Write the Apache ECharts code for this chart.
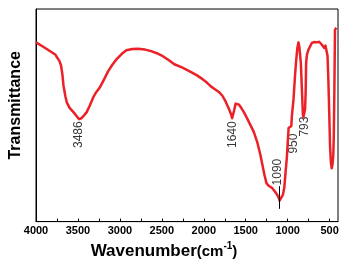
<!DOCTYPE html>
<html>
<head>
<meta charset="utf-8">
<script src="https://cdn.jsdelivr.net/npm/echarts@6/dist/echarts.min.js"></script>
<style>
  html, body { margin: 0; padding: 0; background: #fff; }
  #chart { width: 346px; height: 265px; }
</style>
</head>
<body>
<div id="chart"></div>
<script>
// FTIR spectrum (transmittance in arbitrary 0-100 units)
const wavenumbers = [4000, 3900, 3771, 3720, 3700, 3685, 3672, 3650, 3633, 3600, 3554, 3510, 3486, 3460, 3430, 3396, 3360, 3317, 3280, 3239, 3190, 3139, 3090, 3041, 2980, 2923, 2850, 2784, 2700, 2627, 2560, 2488, 2420, 2351, 2260, 2173, 2090, 2014, 1960, 1916, 1880, 1857, 1820, 1778, 1740, 1700, 1675, 1662, 1652, 1640, 1620, 1600, 1580, 1550, 1522, 1470, 1404, 1360, 1325, 1290, 1277, 1253, 1230, 1186, 1150, 1127, 1110, 1096, 1080, 1056, 1040, 1028, 1010, 1001, 989, 975, 957, 949, 930, 910, 898, 885, 871, 860, 843, 830, 819, 812, 805, 792, 785, 780, 770, 752, 712, 680, 653, 625, 594, 580, 566, 550, 535, 525, 515, 505, 495, 485, 475, 465, 456, 450, 444, 436, 428, 420];
const transmittance = [84.3, 81.9, 78.6, 75.5, 73.2, 69.0, 63.9, 59.0, 56.1, 53.5, 51.5, 49.3, 48.2, 48.6, 49.8, 51.5, 54.5, 58.5, 61.0, 63.1, 66.8, 70.8, 73.8, 76.3, 78.8, 80.6, 81.2, 81.3, 80.9, 80.2, 79.2, 77.8, 76.0, 74.0, 72.5, 70.8, 69.0, 67.0, 65.3, 63.6, 62.6, 62.3, 61.0, 59.2, 56.5, 53.0, 50.5, 48.6, 48.0, 52.0, 55.5, 56.1, 55.0, 53.3, 51.5, 47.5, 42.2, 37.0, 31.3, 24.5, 22.0, 18.1, 17.0, 15.8, 14.0, 12.7, 11.5, 9.9, 10.8, 12.7, 16.0, 22.0, 30.0, 36.0, 44.0, 44.6, 45.0, 50.0, 57.7, 70.0, 76.0, 81.5, 84.3, 82.0, 74.7, 62.0, 50.5, 49.2, 50.5, 53.0, 62.0, 74.7, 78.5, 80.9, 84.0, 84.5, 84.3, 84.6, 83.3, 83.8, 81.7, 82.8, 82.5, 78.0, 67.0, 52.0, 36.0, 28.0, 25.1, 27.0, 31.3, 40.0, 59.2, 90.2, 91.0, 91.2];

const xLabelValues = [4000, 3500, 3000, 2500, 2000, 1500, 1000, 500];
const xTickValues = [4000, 3750, 3500, 3250, 3000, 2750, 2500, 2250, 2000, 1750, 1500, 1250, 1000, 750, 500];

// peak annotations: text, label centre (wavenumber, transmittance)
const peakNames = ['3486', '1640', '1090', '950', '793'];
const peakLabelX = [3486, 1652, 1115, 930, 800];
const peakLabelY = [40.9, 40.9, 23.3, 36.7, 44.7];
const marker1090 = [[1096, 16.7], [1096, 6.0]];

const chart = echarts.init(document.getElementById('chart'));

const fontFamily = '"Liberation Sans", Arial, sans-serif';

const option = {
  animation: false,
  grid: {
    left: 34, right: 8, top: 9, bottom: 41,
    show: true, borderColor: '#000', borderWidth: 1
  },
  xAxis: {
    type: 'value',
    inverse: true,
    min: 400,
    max: 4000,
    name: '{a|Wavenumber}{b|(cm}{c|-1}{b|)}',
    nameLocation: 'middle',
    nameGap: 7,
    nameTextStyle: {
      padding: [0, 46, 0, 0],
      rich: {
        a: { fontSize: 17, fontWeight: 'bold', fontFamily, color: '#000', lineHeight: 20 },
        b: { fontSize: 15, fontWeight: 'bold', fontFamily, color: '#000', lineHeight: 20 },
        c: { fontSize: 10, fontWeight: 'bold', fontFamily, color: '#000', verticalAlign: 'top', lineHeight: 20, padding: [0, 0, 8, 0] }
      }
    },
    axisLine: { show: true, lineStyle: { color: '#000', width: 1 } },
    axisTick: { show: true, inside: true, length: 3, customValues: xTickValues, lineStyle: { color: '#000' } },
    axisLabel: {
      customValues: xLabelValues,
      formatter: v => String(v),
      color: '#000', fontSize: 11, fontWeight: 'bold', fontFamily, margin: 4
    },
    splitLine: { show: false }
  },
  yAxis: {
    type: 'value',
    min: 0,
    max: 100,
    name: 'Transmittance',
    nameLocation: 'middle',
    nameGap: 12,
    nameTextStyle: {
      fontSize: 16, fontWeight: 'bold', fontFamily, color: '#000',
      padding: [0, 0, 0, 20]
    },
    axisLine: { show: true, lineStyle: { color: '#000', width: 1 } },
    axisTick: { show: false },
    axisLabel: { show: false },
    splitLine: { show: false }
  },
  series: [
    {
      type: 'line',
      data: wavenumbers.map((w, i) => [w, transmittance[i]]),
      showSymbol: false,
      smooth: false,
      lineStyle: { color: '#ec2027', width: 2.5, join: 'round' },
      markLine: {
        silent: true,
        symbol: ['none', 'none'],
        label: { show: false },
        lineStyle: { color: '#000', width: 1, type: 'solid' },
        data: [[{ coord: marker1090[0] }, { coord: marker1090[1] }]]
      }
    },
    {
      type: 'scatter',
      silent: true,
      symbolSize: 0,
      data: peakNames.map((n, i) => ({ value: [peakLabelX[i], peakLabelY[i]], name: n })),
      label: {
        show: true,
        position: 'inside',
        rotate: 90,
        align: 'center',
        verticalAlign: 'middle',
        formatter: p => p.name,
        color: '#000',
        fontSize: 12,
        fontFamily
      }
    }
  ]
};

chart.setOption(option);
</script>
</body>
</html>
